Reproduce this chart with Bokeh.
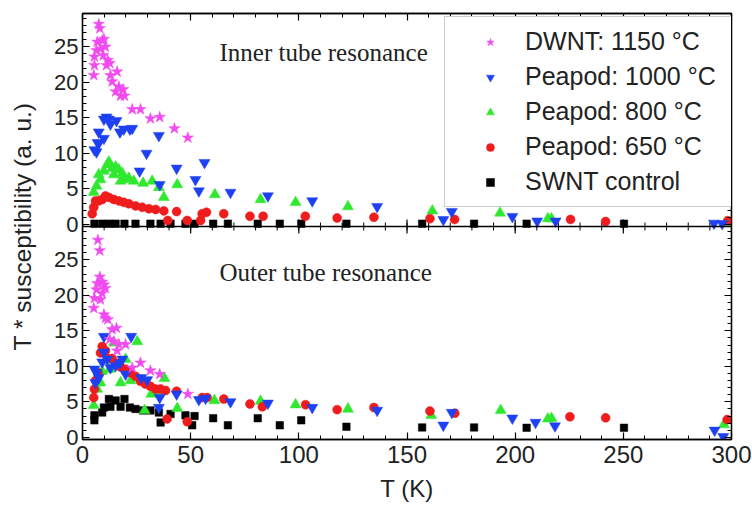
from bokeh.plotting import figure
from bokeh.models import (Range1d, LinearAxis, FixedTicker, Legend, LegendItem, Label,
                          Span, CustomJSTickFormatter)
from bokeh.embed import file_html
from bokeh.resources import INLINE

# ---------------- data ----------------
# Inner tube resonance (top panel)
dwnt_in_T = [5.2, 5.5, 5.5, 6.5, 6.8, 7.5, 8.0, 8.3, 9.1, 9.6, 9.9, 10.6, 11.1, 11.7, 12.6, 12.9, 13.7, 15.3, 16.0, 16.8, 17.6, 18.8, 19.4, 23.0, 26.8, 31.4, 35.7, 42.5, 48.7]
dwnt_in_v = [21.0, 22.4, 23.6, 24.5, 25.7, 28.2, 27.6, 24.7, 25.9, 23.8, 26.1, 25.0, 22.4, 23.1, 22.7, 21.0, 20.1, 18.7, 21.5, 19.4, 18.1, 19.0, 18.1, 16.2, 16.2, 14.9, 15.1, 13.5, 12.2]

p1000_in_T = [5.5, 6.5, 7.0, 7.5, 7.5, 9.9, 9.9, 11.1, 12.2, 12.9, 15.7, 17.3, 19.1, 21.9, 23.0, 26.4, 29.6, 35.3, 35.7, 43.5, 52.2, 53.8, 56.4, 68.4, 85.7, 106.2, 136.2, 166.8, 170.7, 198.7, 210.2, 218.7, 291.9, 295.7]
p1000_in_v = [10.5, 10.2, 11.5, 11.4, 13.0, 12.1, 14.8, 15.1, 14.8, 14.1, 14.6, 13.0, 13.4, 13.4, 13.5, 7.5, 10.0, 12.5, 5.6, 7.9, 6.3, 4.7, 8.7, 4.5, 4.0, 3.3, 2.5, 0.65, 1.8, 1.1, 0.45, 0.45, 0.15, 0.1]

p800_in_T = [5.2, 6.5, 7.5, 8.3, 9.9, 11.4, 12.2, 13.7, 14.5, 15.3, 16.8, 17.6, 18.4, 19.1, 21.4, 23.7, 28.0, 32.2, 35.3, 37.6, 43.8, 61.2, 82.3, 98.5, 122.7, 161.7, 193.0, 215.1, 216.8, 297.3]
p800_in_v = [4.5, 5.4, 7.0, 6.3, 7.5, 8.4, 8.8, 7.9, 7.0, 8.1, 7.7, 6.1, 7.2, 6.3, 6.5, 6.1, 5.8, 6.1, 5.2, 3.8, 5.6, 4.2, 3.5, 3.1, 2.5, 1.9, 1.6, 0.8, 0.8, 0.3]

p650_in_T = [4.5, 5.2, 6.0, 7.5, 9.1, 10.6, 12.2, 14.5, 16.8, 19.1, 21.4, 24.5, 27.6, 30.7, 33.8, 37.6, 39.4, 43.5, 48.4, 54.6, 55.3, 57.3, 65.3, 77.4, 83.5, 103.0, 117.7, 134.7, 160.6, 172.0, 225.6, 241.8, 298.3]
p650_in_v = [1.5, 2.4, 3.3, 3.3, 3.5, 4.0, 3.8, 3.5, 3.3, 3.1, 2.9, 2.6, 2.4, 2.2, 2.1, 1.9, 0.55, 1.8, 0.55, 0.55, 1.5, 1.7, 1.5, 1.15, 1.15, 1.15, 0.9, 1.0, 0.8, 0.7, 0.7, 0.4, 0.5]

swnt_in_T = [5.5, 9.1, 12.2, 15.3, 19.4, 24.5, 31.4, 36.1, 40.7, 47.6, 51.8, 60.4, 67.2, 81.0, 91.2, 101.1, 122.0, 157.0, 181.0, 205.3, 250.3]
swnt_in_v = [0.1, 0.1, 0.1, 0.1, 0.1, 0.1, 0.1, 0.1, 0.1, 0.1, 0.1, 0.1, 0.1, 0.1, 0.1, 0.1, 0.1, 0.1, 0.1, 0.1, 0.1]

# Outer tube resonance (bottom panel)
dwnt_out_T = [5.2, 5.5, 6.5, 6.8, 7.1, 8.0, 8.0, 8.3, 9.1, 9.1, 9.9, 9.9, 10.6, 10.6, 11.7, 12.6, 13.7, 14.5, 15.7, 16.0, 16.8, 19.9, 23.0, 26.8, 31.4, 35.7, 48.7]
dwnt_out_v = [18.2, 19.6, 20.8, 21.7, 27.8, 26.3, 22.6, 19.4, 21.9, 20.3, 21.5, 17.3, 21.0, 16.8, 16.6, 13.8, 15.2, 13.5, 15.4, 12.2, 13.1, 13.1, 9.8, 10.5, 9.4, 8.9, 6.1]

p1000_out_T = [5.5, 6.0, 6.5, 7.5, 9.1, 9.9, 9.9, 11.4, 12.9, 15.3, 17.3, 18.4, 19.9, 22.5, 27.1, 29.9, 35.3, 35.7, 43.5, 53.8, 56.9, 68.4, 85.7, 106.2, 136.2, 166.8, 170.7, 198.7, 209.4, 218.4, 292.2, 296.2]
p1000_out_v = [9.6, 7.7, 9.1, 8.4, 10.6, 14.2, 12.0, 11.0, 9.8, 10.1, 10.5, 11.0, 8.9, 14.2, 8.4, 8.1, 4.2, 5.6, 6.1, 5.3, 5.5, 5.0, 4.8, 4.2, 3.8, 1.7, 3.5, 2.7, 2.1, 1.6, 1.0, 0.1]

p800_out_T = [5.2, 6.8, 8.3, 9.1, 12.6, 14.5, 17.6, 19.9, 22.2, 25.3, 28.7, 31.8, 35.7, 37.9, 43.8, 61.0, 82.3, 98.5, 122.7, 161.2, 193.3, 215.1, 216.8, 296.5]
p800_out_v = [4.5, 6.8, 7.7, 9.3, 9.6, 13.3, 7.7, 11.0, 8.0, 13.5, 3.8, 6.1, 6.5, 8.3, 4.1, 5.2, 5.1, 4.6, 4.0, 3.1, 3.8, 2.6, 2.7, 1.8]

p650_out_T = [5.2, 5.5, 6.0, 7.2, 8.3, 9.1, 10.6, 11.7, 13.7, 16.0, 17.7, 19.9, 22.2, 24.5, 26.8, 29.1, 31.4, 33.8, 36.1, 38.4, 39.1, 43.5, 48.4, 55.3, 57.6, 65.3, 77.4, 83.1, 103.1, 117.7, 134.7, 160.6, 172.1, 225.3, 241.8, 298.0]
p650_out_v = [5.6, 6.8, 8.0, 9.1, 11.9, 12.8, 12.2, 11.1, 11.1, 10.4, 9.9, 9.6, 9.1, 8.6, 7.9, 7.5, 7.2, 6.8, 6.8, 6.6, 2.6, 6.5, 2.2, 5.6, 5.6, 5.4, 4.7, 4.3, 4.6, 3.9, 4.2, 3.7, 3.4, 2.9, 2.75, 2.5]

swnt_out_T = [5.5, 5.5, 9.1, 9.9, 12.2, 12.9, 15.3, 17.6, 19.4, 21.9, 24.5, 28.0, 31.4, 35.3, 36.1, 40.7, 47.6, 50.7, 51.8, 60.4, 67.2, 81.0, 91.2, 101.1, 122.0, 157.0, 181.0, 205.3, 250.3]
swnt_out_v = [3.1, 2.4, 3.5, 4.2, 5.4, 4.3, 5.2, 4.3, 5.4, 4.2, 4.0, 3.8, 3.8, 3.5, 2.1, 3.3, 3.1, 1.7, 3.0, 2.7, 1.7, 2.7, 1.7, 2.4, 1.5, 1.4, 1.4, 1.35, 1.35]

series_labels = ["DWNT: 1150 °C", "Peapod: 1000 °C", "Peapod: 800 °C", "Peapod: 650 °C", "SWNT control"]
x_ticks = [0, 50, 100, 150, 200, 250, 300]
x_minor = list(range(0, 301, 10))
y_ticks = [0, 5, 10, 15, 20, 25]
y_minor = list(range(0, 30))

# ---------------- layout / styling ----------------
OFFSET = 30            # the inner panel sits 30 units above the outer one on the shared axis
Y_LO, Y_HI = -0.3, 59.7
BOUNDARY = 29.7        # panel boundary (in outer-panel units)
FONT = "Liberation Sans"
INK = "#222222"

STYLES = {
    "dwnt": dict(marker="star", size=12, color="#f04af0"),
    "p1000": dict(marker="inverted_triangle", size=11, color="#1c40f2"),
    "p800": dict(marker="triangle", size=11, color="#2fe82f"),
    "p650": dict(marker="circle", size=9, color="#ee1c1c"),
    "swnt": dict(marker="square", size=7.5, color="#000000"),
}

p = figure(width=752, height=509,
           x_range=Range1d(0, 300), y_range=Range1d(Y_LO, Y_HI),
           output_backend="svg", toolbar_location=None,
           x_axis_location=None, y_axis_location=None,
           min_border_left=82, min_border_right=21,
           min_border_top=13, min_border_bottom=70)
p.extra_y_ranges = {"inner": Range1d(Y_LO - OFFSET, Y_HI - OFFSET)}
p.grid.visible = False
p.outline_line_color = "black"
p.outline_line_width = 1.3
p.background_fill_color = "white"
p.border_fill_color = "white"

all_y_ticks = y_ticks + [t + OFFSET for t in y_ticks]
all_y_minor = y_minor + [t + OFFSET for t in y_minor]
yfmt = CustomJSTickFormatter(code=f"return String(tick >= {OFFSET} ? tick - {OFFSET} : tick);")


def style_axis(ax, labels):
    ax.major_tick_in = 7
    ax.major_tick_out = 0
    ax.minor_tick_in = 4
    ax.minor_tick_out = 0
    ax.axis_line_color = "black"
    ax.axis_line_width = 1.3
    ax.major_tick_line_width = 1.2
    ax.major_label_text_font = FONT
    ax.major_label_text_color = INK
    if not labels:
        ax.major_label_text_color = None
        ax.major_label_text_font_size = "0px"
        ax.major_label_standoff = 0


yl = LinearAxis(ticker=FixedTicker(ticks=all_y_ticks, minor_ticks=all_y_minor), formatter=yfmt)
style_axis(yl, True)
yl.major_label_text_font_size = "22px"
yl.major_label_standoff = 4
yl.axis_label = "T * susceptibility (a. u.)"
yl.axis_label_text_font = FONT
yl.axis_label_text_font_size = "24.5px"
yl.axis_label_text_font_style = "normal"
yl.axis_label_text_color = INK
yl.axis_label_standoff = 15
p.add_layout(yl, "left")

yr = LinearAxis(ticker=FixedTicker(ticks=all_y_ticks, minor_ticks=all_y_minor), formatter=yfmt)
style_axis(yr, False)
p.add_layout(yr, "right")

xt = LinearAxis(ticker=FixedTicker(ticks=x_ticks, minor_ticks=x_minor))
style_axis(xt, False)
p.add_layout(xt, "above")

xb = LinearAxis(ticker=FixedTicker(ticks=x_ticks, minor_ticks=x_minor))
style_axis(xb, True)
xb.major_label_text_font_size = "24px"
xb.major_label_standoff = 6
xb.axis_label = "T (K)"
xb.axis_label_text_font = FONT
xb.axis_label_text_font_size = "24px"
xb.axis_label_text_font_style = "normal"
xb.axis_label_text_color = INK
xb.axis_label_standoff = 9
p.add_layout(xb, "below")

# panel boundary line with ticks crossing it (ticks taken from the x tick lists)
p.segment(x0=x_minor, y0=[BOUNDARY - 0.56] * len(x_minor), x1=x_minor, y1=[BOUNDARY + 0.56] * len(x_minor),
          line_color="black", line_width=1.0)
p.segment(x0=x_ticks, y0=[BOUNDARY - 1.0] * len(x_ticks), x1=x_ticks, y1=[BOUNDARY + 1.0] * len(x_ticks),
          line_color="black", line_width=1.2)

inner = {
    "dwnt": (dwnt_in_T, dwnt_in_v), "p1000": (p1000_in_T, p1000_in_v),
    "p800": (p800_in_T, p800_in_v), "p650": (p650_in_T, p650_in_v),
    "swnt": (swnt_in_T, swnt_in_v),
}
outer = {
    "dwnt": (dwnt_out_T, dwnt_out_v), "p1000": (p1000_out_T, p1000_out_v),
    "p800": (p800_out_T, p800_out_v), "p650": (p650_out_T, p650_out_v),
    "swnt": (swnt_out_T, swnt_out_v),
}
draw_order = ["swnt", "p800", "p650", "p1000", "dwnt"]
legend_order = ["dwnt", "p1000", "p800", "p650", "swnt"]

top_r = {}
for key in draw_order:
    st = STYLES[key]
    xs, ys = outer[key]
    p.scatter(xs, ys, marker=st["marker"], size=st["size"],
              fill_color=st["color"], line_color=st["color"], line_width=0.5)
    xs, ys = inner[key]
    top_r[key] = p.scatter(xs, ys, marker=st["marker"], size=st["size"], y_range_name="inner",
                           fill_color=st["color"], line_color=st["color"], line_width=0.5)

p.add_layout(Span(location=BOUNDARY, dimension="width", line_color="black", line_width=1.3))

legend = Legend(items=[LegendItem(label=series_labels[i], renderers=[top_r[k]])
                       for i, k in enumerate(legend_order)],
                location=(362, 232))
legend.label_text_font = FONT
legend.label_text_font_size = "25px"
legend.label_text_color = INK
legend.glyph_width = 70
legend.glyph_height = 20
legend.label_height = 20
legend.label_width = 200
legend.spacing = 6
legend.padding = 10
legend.margin = 0
legend.label_standoff = 0
legend.border_line_color = "#9a9a9a"
legend.border_line_width = 1.5
legend.background_fill_color = "white"
legend.background_fill_alpha = 1.0
p.add_layout(legend)

p.add_layout(Label(x=137, y=387, x_units="screen", y_units="screen",
                   text="Inner tube resonance", text_font="Liberation Serif",
                   text_font_size="25px", text_color=INK, text_baseline="middle"))
p.add_layout(Label(x=137, y=167, x_units="screen", y_units="screen",
                   text="Outer tube resonance", text_font="Liberation Serif",
                   text_font_size="25px", text_color=INK, text_baseline="middle"))

open("out.html", "w").write(file_html(p, INLINE))
